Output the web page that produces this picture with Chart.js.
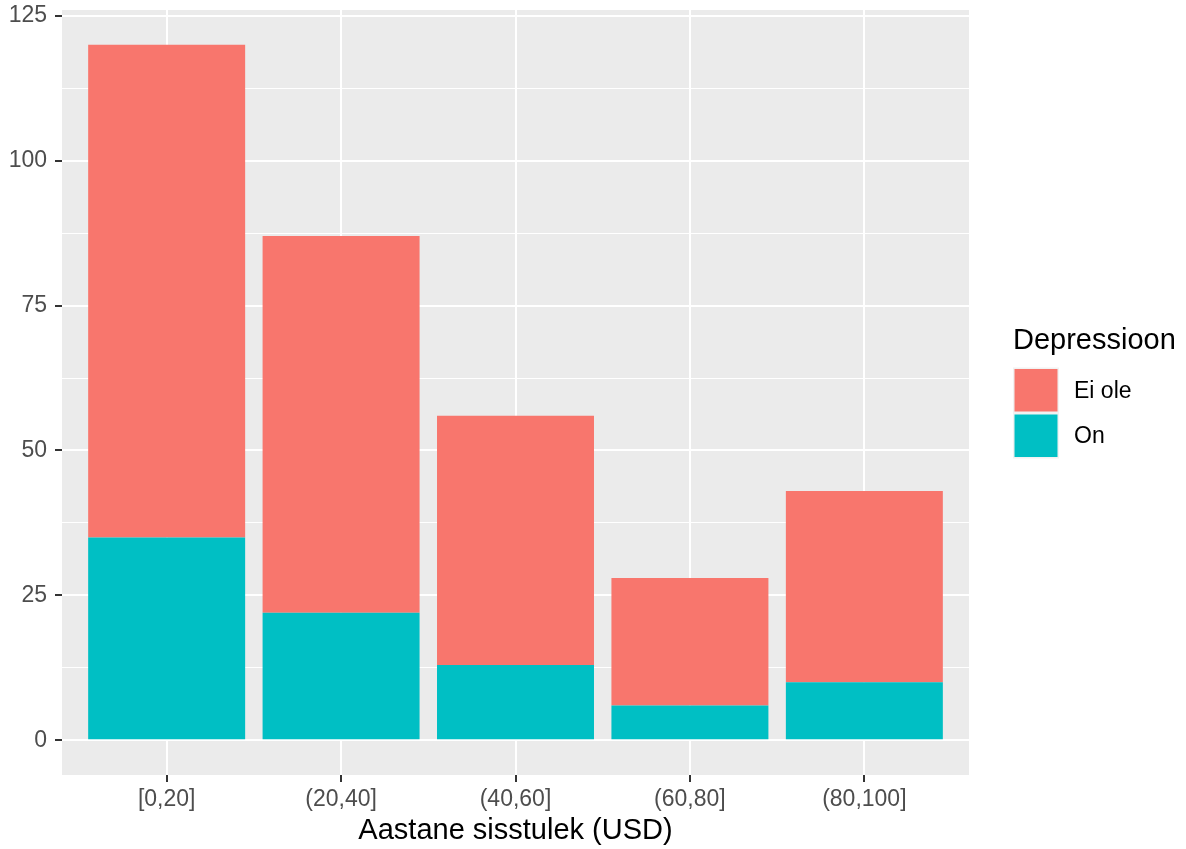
<!DOCTYPE html>
<html>
<head>
<meta charset="utf-8">
<script src="https://cdn.jsdelivr.net/npm/chart.js@4"></script>
<style>
html, body { margin: 0; padding: 0; background: #fff; }
#wrap { width: 1186px; height: 849px; position: relative; }
</style>
</head>
<body>
<div id="wrap"><canvas id="incomeChart"></canvas></div>
<script>
const categories = ['[0,20]', '(20,40]', '(40,60]', '(60,80]', '(80,100]'];
const eiOle = [85, 65, 43, 22, 33];
const on = [35, 22, 13, 6, 10];
const yTicks = [0, 25, 50, 75, 100, 125];
const yMinorTicks = [12.5, 37.5, 62.5, 87.5, 112.5];
const seriesNames = ['On', 'Ei ole'];
const seriesColors = ['#00BFC4', '#F8766D'];

Chart.defaults.font.family = "'Liberation Sans', Arial, sans-serif";
Chart.defaults.animation = false;

const toPoints = vals => vals.map((v, i) => ({ x: i + 1, y: v }));

// grey panel behind the plot, like theme_grey
const panelBg = {
    id: 'panelBg',
    beforeDraw(chart) {
        const { ctx, chartArea: a } = chart;
        ctx.save();
        ctx.fillStyle = '#EBEBEB';
        ctx.fillRect(a.left, a.top, a.right - a.left, a.bottom - a.top);
        ctx.restore();
    }
};

// ggplot-like legend on the right, top entry = top of the stack
const sideLegend = {
    id: 'sideLegend',
    afterDraw(chart) {
        const ctx = chart.ctx;
        const x = 1013, top = 367.5, cell = 45.5;
        ctx.save();
        ctx.fillStyle = '#000';
        ctx.font = "29px 'Liberation Sans', Arial, sans-serif";
        ctx.textBaseline = 'middle';
        ctx.textAlign = 'left';
        ctx.fillText('Depressioon', x, 341);
        ctx.font = "23px 'Liberation Sans', Arial, sans-serif";
        const items = chart.data.datasets.slice().reverse();
        items.forEach((ds, i) => {
            const y = top + i * cell;
            ctx.fillStyle = '#F2F2F2';
            ctx.fillRect(x, y, 46, cell);
            ctx.fillStyle = ds.backgroundColor;
            ctx.fillRect(x + 1.5, y + 1.5, 43, cell - 3);
            ctx.fillStyle = '#000';
            ctx.fillText(ds.label, 1074, y + cell / 2 + 1);
        });
        ctx.restore();
    }
};

const ctx = document.getElementById('incomeChart');
new Chart(ctx, {
    type: 'bar',
    data: {
        datasets: [
            { label: seriesNames[0], data: toPoints(on), backgroundColor: seriesColors[0], borderWidth: 0 },
            { label: seriesNames[1], data: toPoints(eiOle), backgroundColor: seriesColors[1], borderWidth: 0 }
        ]
    },
    options: {
        responsive: true,
        maintainAspectRatio: false,
        layout: { padding: { top: 10, right: 217, bottom: 0, left: 0 } },
        categoryPercentage: 0.9,
        barPercentage: 1.0,
        plugins: {
            legend: { display: false },
            tooltip: { enabled: false }
        },
        scales: {
            x: {
                type: 'linear',
                stacked: true,
                offset: false,
                min: 0.4,
                max: 5.6,
                afterBuildTicks: scale => {
                    scale.ticks = categories.map((c, i) => ({ value: i + 1 }));
                },
                afterFit: scale => {
                    scale.height = 74;
                    scale.paddingLeft = 0;
                    scale.paddingRight = 0;
                },
                border: { display: false },
                grid: {
                    offset: false,
                    color: '#FFFFFF',
                    lineWidth: 2,
                    tickColor: '#333333',
                    tickWidth: 2,
                    tickLength: 7
                },
                ticks: {
                    color: '#4D4D4D',
                    font: { size: 23 },
                    padding: 4,
                    maxRotation: 0,
                    autoSkip: false,
                    callback: v => categories[v - 1] ?? ''
                },
                title: {
                    display: true,
                    text: 'Aastane sisstulek (USD)',
                    color: '#000',
                    font: { size: 29 },
                    padding: { top: 0, bottom: 1 }
                }
            },
            y: {
                stacked: true,
                min: -6,
                max: 126,
                afterBuildTicks: scale => {
                    scale.ticks = [...yTicks, ...yMinorTicks].sort((a, b) => a - b).map(v => ({ value: v }));
                },
                afterFit: scale => {
                    scale.width = 62;
                    scale.paddingTop = 0;
                    scale.paddingBottom = 0;
                },
                border: { display: false },
                grid: {
                    color: '#FFFFFF',
                    lineWidth: c => yTicks.includes(c.tick.value) ? 2 : 1,
                    tickColor: c => yTicks.includes(c.tick.value) ? '#333333' : 'rgba(0,0,0,0)',
                    tickWidth: 2,
                    tickLength: 7
                },
                ticks: {
                    color: '#4D4D4D',
                    font: { size: 23 },
                    padding: 8,
                    autoSkip: false,
                    callback: v => yTicks.includes(v) ? String(v) : ''
                }
            }
        }
    },
    plugins: [panelBg, sideLegend]
});
</script>
</body>
</html>
